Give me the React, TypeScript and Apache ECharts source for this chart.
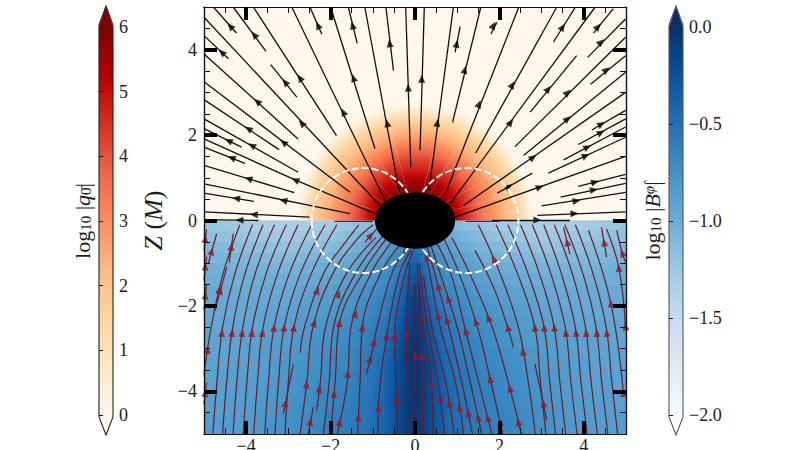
import React, { useEffect, useRef } from "react";
import * as echarts from "echarts";

const serif = '"Liberation Serif", serif';
const ink = "#1c1c1c";
const majorTicks = [-4, -2, 0, 2, 4];

// colormaps (value fraction evenly spaced)
const orRd = ["#fff7ec", "#fee8c8", "#fdd49e", "#fdbb84", "#fc8d59", "#ef6548", "#d7301f", "#b30000", "#7f0000"];
const blues = ["#f7fbff", "#deebf7", "#c6dbef", "#9ecae1", "#6baed6", "#4292c6", "#2171b5", "#08519c", "#08306b"];
const qRange = [0, 6];
const bRange = [-2, 0];

// log10|q| above the equator: one row per 15 degree wedge from the equator to the pole, one column per radius
const qRadii = [0.6, 0.7, 0.8, 0.9, 1.0, 1.1, 1.2, 1.3, 1.4, 1.5, 1.6, 1.7, 1.8, 1.9, 2.0, 2.1, 2.2, 2.3, 2.4, 2.5, 2.6, 2.7, 2.8];
const qWedges = [
  [5.8, 5.8, 5.7, 5.5, 5.3, 5.0, 4.6, 4.3, 4.0, 3.7, 3.4, 3.2, 3.0, 2.8, 2.6, 2.35, 2.1, 1.9, 1.65, 1.3, 0.9, 0.4, 0],
  [5.8, 5.8, 5.7, 5.5, 5.3, 5.0, 4.65, 4.35, 4.05, 3.75, 3.45, 3.2, 3.0, 2.8, 2.55, 2.3, 2.1, 1.85, 1.6, 1.25, 0.85, 0.4, 0],
  [5.8, 5.8, 5.7, 5.5, 5.3, 5.0, 4.7, 4.4, 4.1, 3.8, 3.5, 3.25, 3.0, 2.75, 2.5, 2.3, 2.05, 1.8, 1.5, 1.2, 0.8, 0.35, 0],
  [5.8, 5.8, 5.7, 5.5, 5.25, 5.0, 4.7, 4.45, 4.2, 3.9, 3.6, 3.3, 3.0, 2.75, 2.5, 2.3, 2.0, 1.75, 1.45, 1.1, 0.7, 0.3, 0],
  [5.8, 5.8, 5.7, 5.5, 5.2, 5.0, 4.7, 4.5, 4.25, 4.0, 3.7, 3.4, 3.1, 2.8, 2.55, 2.3, 2.05, 1.75, 1.4, 1.05, 0.65, 0.25, 0],
  [5.8, 5.8, 5.7, 5.5, 5.2, 5.0, 4.7, 4.5, 4.3, 4.1, 3.8, 3.5, 3.2, 2.9, 2.6, 2.4, 2.1, 1.8, 1.4, 1.0, 0.6, 0.2, 0],
];

// log10|B| below the equator: one row per 0.25 M of Z, one column per |X| edge
const bColumns = [0, 0.15, 0.3, 0.5, 0.75, 1, 1.5, 2, 3, 4, 5];
const bRows = [
  [-0.75, -0.8, -0.85, -0.95, -1.05, -1.12, -1.2, -1.28, -1.33, -1.28, -1.2],
  [-0.6, -0.65, -0.75, -0.85, -0.95, -1.02, -1.12, -1.2, -1.27, -1.22, -1.15],
  [-0.5, -0.55, -0.68, -0.78, -0.88, -0.95, -1.05, -1.12, -1.2, -1.15, -1.1],
  [-0.42, -0.48, -0.62, -0.72, -0.82, -0.87, -0.98, -1.05, -1.12, -1.1, -1.06],
  [-0.33, -0.4, -0.55, -0.68, -0.76, -0.82, -0.92, -0.99, -1.05, -1.05, -1.02],
  [-0.25, -0.33, -0.48, -0.63, -0.72, -0.78, -0.87, -0.93, -1.0, -1.02, -1.0],
  [-0.18, -0.27, -0.43, -0.58, -0.68, -0.73, -0.83, -0.88, -0.96, -0.99, -0.98],
  [-0.13, -0.2, -0.38, -0.53, -0.64, -0.69, -0.79, -0.84, -0.93, -0.97, -0.97],
  [-0.08, -0.15, -0.32, -0.48, -0.6, -0.66, -0.76, -0.81, -0.9, -0.95, -0.96],
  [-0.06, -0.12, -0.27, -0.44, -0.56, -0.63, -0.73, -0.78, -0.88, -0.93, -0.95],
  [-0.05, -0.09, -0.23, -0.4, -0.53, -0.6, -0.7, -0.76, -0.86, -0.92, -0.94],
  [-0.04, -0.08, -0.2, -0.36, -0.5, -0.58, -0.68, -0.74, -0.84, -0.91, -0.93],
  [-0.03, -0.07, -0.17, -0.32, -0.47, -0.56, -0.66, -0.72, -0.82, -0.9, -0.92],
  [-0.03, -0.07, -0.16, -0.3, -0.45, -0.54, -0.65, -0.7, -0.81, -0.89, -0.91],
  [-0.03, -0.07, -0.15, -0.28, -0.43, -0.52, -0.63, -0.68, -0.8, -0.88, -0.9],
  [-0.03, -0.07, -0.15, -0.27, -0.42, -0.51, -0.62, -0.67, -0.79, -0.87, -0.9],
  [-0.04, -0.08, -0.15, -0.27, -0.41, -0.5, -0.61, -0.66, -0.78, -0.86, -0.89],
  [-0.04, -0.08, -0.15, -0.27, -0.41, -0.49, -0.6, -0.65, -0.77, -0.85, -0.88],
  [-0.05, -0.09, -0.16, -0.28, -0.41, -0.49, -0.59, -0.64, -0.76, -0.84, -0.87],
  [-0.05, -0.09, -0.16, -0.28, -0.41, -0.48, -0.58, -0.63, -0.75, -0.84, -0.87],
];

const horizonAxes = [0.95, 0.66]; // semi-axes in M
const ergoCircles = [[-1.22, 0, 1.23], [1.22, 0, 1.23]]; // centre X, centre Z, radius

type Stream = [number[][], number[][]];
type LowStream = [number[][], number[]];

// each stream: points along the flow, then its arrow positions (X, Z in M)
const upperLeft: Stream[] = [
  [[[-0.1, 1.25], [-0.22, 5]], [[-0.16, 3.11]]],
  [[[-0.37, 0.66], [-1.19, 5]], [[-0.66, 2.28]]],
  [[[-0.71, 0.47], [-2.92, 5]], [[-1.7, 2.54]]],
  [[[-0.95, 1.68], [-2.0, 5]], [[-1.46, 3.34]]],
  [[[-1.86, 1.99], [-3.83, 5]], [[-2.73, 3.34]]],
  [[[-0.83, 0.35], [-5, 4.76]], [[-2.69, 2.28]]],
  [[[-2.77, 1.91], [-5, 3.9]], [[-3.74, 2.79]]],
  [[[-1.54, 0.66], [-5, 3.25]], [[-3.12, 1.83]]],
  [[[-3.22, 1.66], [-5, 2.83]], [[-3.95, 2.15]]],
  [[[-2.77, 1.13], [-5, 2.38]], [[-3.87, 1.76]]],
  [[[-4.11, 1.72], [-5, 2.15]], [[-4.42, 1.87]]],
  [[[-0.95, 0.16], [-2.84, 0.95], [-5, 1.91]], [[-2.84, 0.95]]],
  [[[-4.03, 1.34], [-5, 1.72]], [[-4.35, 1.47]]],
  [[[-2.86, 0.65], [-5, 1.29]], [[-3.95, 0.98]]],
  [[[-1.54, 0.16], [-5, 0.86]], [[-3.12, 0.47]]],
  [[[-3.82, 0.45], [-5, 0.64]], [[-4.24, 0.52]]],
  [[[-2.5, 0.08], [-5, 0.2]], [[-3.82, 0.14]]],
  [[[-3.71, 0.0], [-5, 0.02]], [[-4.16, 0.01]]],
  [[[-3.53, 3.96], [-4.31, 5]], [[-3.81, 4.35]]],
  [[[-4.23, 4.39], [-4.78, 5]], [[-4.38, 4.55]]],
  [[[-4.42, 3.79], [-5, 4.33]], [[-4.58, 3.94]]],
  [[[-2.8, 2.89], [-3.42, 3.65]], [[-3.08, 3.24]]],
  [[[-2.21, 4.37], [-2.49, 5]], [[-2.3, 4.57]]],
  [[[-1.37, 4.15], [-1.58, 5]], [[-1.48, 4.57]]],
  [[[-0.51, 3.51], [-0.69, 5]], [[-0.6, 4.15]]],
];

const upperRight: Stream[] = [
  [[[0.12, 1.64], [0.22, 5]], [[0.16, 3.32]]],
  [[[0.33, 0.7], [0.91, 5]], [[0.53, 2.29]]],
  [[[0.89, 2.3], [1.56, 5]], [[1.18, 3.53]]],
  [[[0.95, 3.94], [1.07, 4.54]], [[0.99, 4.14]]],
  [[[1.8, 4.37], [1.94, 4.64]], [[1.86, 4.57]]],
  [[[0.75, 0.7], [2.46, 5]], [[1.52, 2.73]]],
  [[[1.44, 1.58], [3.36, 5]], [[2.31, 3.18]]],
  [[[0.83, 0.39], [4.27, 5]], [[2.27, 2.3]]],
  [[[2.73, 2.54], [3.83, 3.86]], [[3.16, 3.08]]],
  [[[2.37, 1.73], [4.99, 4.29]], [[3.62, 3.0]]],
  [[[2.57, 1.52], [4.99, 3.47]], [[3.62, 2.38]]],
  [[[1.15, 0.35], [4.99, 3.0]], [[2.8, 1.48]]],
  [[[4.19, 2.12], [4.99, 2.58]], [[4.42, 2.26]]],
  [[[3.87, 1.78], [4.99, 2.38]], [[4.41, 2.06]]],
  [[[3.52, 1.42], [4.99, 2.19]], [[4.09, 1.72]]],
  [[[3.16, 1.11], [4.99, 1.95]], [[4.05, 1.52]]],
  [[[1.95, 0.64], [2.78, 1.11]], [[2.23, 0.8]]],
  [[[0.95, 0.08], [4.99, 1.5]], [[2.96, 0.78]]],
  [[[3.87, 0.8], [4.99, 1.08]], [[4.27, 0.9]]],
  [[[3.45, 0.55], [4.99, 0.87]], [[4.24, 0.72]]],
  [[[3.0, 0.34], [4.99, 0.66]], [[3.83, 0.46]]],
  [[[2.9, 0.12], [4.99, 0.2]], [[3.78, 0.16]]],
  [[[1.82, 0.0], [3.67, 0.0]], [[2.9, 0.01]]],
  [[[3.28, 4.18], [3.79, 4.98]], [[3.5, 4.53]]],
  [[[4.23, 4.39], [4.7, 4.96]], [[4.34, 4.54]]],
  [[[4.09, 3.82], [4.99, 4.72]], [[4.41, 4.18]]],
  [[[4.16, 3.19], [4.99, 3.86]], [[4.54, 3.53]]],
];

// below the equator: points along the flow, then the Z of each arrow on that stream
const lowerLeft: LowStream[] = [
  [[[-5, -3.6], [-4.83, -2.5], [-4.55, -1.25], [-4.15, -0.1]], [-3.03, -1.62]],
  [[[-4.79, -5], [-4.69, -3.75], [-4.56, -2.5], [-4.27, -1.25], [-3.85, -0.1]], [-2.63]],
  [[[-4.56, -5], [-4.46, -3.75], [-4.32, -2.5], [-4.03, -1.25], [-3.6, -0.1]], [-2.63]],
  [[[-4.31, -5], [-4.22, -3.75], [-4.08, -2.5], [-3.79, -1.25], [-3.33, -0.1]], [-2.63]],
  [[[-4.07, -5], [-3.98, -3.75], [-3.85, -2.5], [-3.53, -1.25], [-3.05, -0.1]], [-2.63]],
  [[[-3.82, -5], [-3.73, -3.75], [-3.6, -2.5], [-3.26, -1.25], [-2.77, -0.1]], [-2.63]],
  [[[-3.56, -5], [-3.47, -3.75], [-3.34, -2.5], [-2.98, -1.25], [-2.45, -0.1]], [-2.51]],
  [[[-3.32, -5], [-3.23, -3.75], [-3.1, -2.5], [-2.72, -1.25], [-2.13, -0.1]], [-2.51]],
  [[[-3.08, -5], [-3.0, -3.75], [-2.87, -2.5], [-2.46, -1.25], [-1.85, -0.1]], [-2.51]],
  [[[-2.72, -3.1], [-2.62, -2.5], [-2.17, -1.25], [-1.72, -0.6], [-1.33, -0.1]], [-1.64]],
  [[[-2.72, -5], [-2.56, -3.75], [-2.42, -2.5], [-1.95, -1.25], [-1.38, -0.45], [-0.99, -0.1]], [-3.84, -2.4]],
  [[[-2.33, -4.45], [-2.24, -3.75], [-2.12, -2.5], [-1.63, -1.25], [-0.93, -0.4]], [-3.94, -1.72]],
  [[[-2.17, -5], [-2.03, -3.75], [-1.93, -2.5], [-1.42, -1.25], [-0.75, -0.35]], []],
  [[[-2.0, -5], [-1.89, -3.75], [-1.79, -2.4], [-1.25, -1.25], [-0.62, -0.35]], [-4.06, -2.4]],
  [[[-1.84, -5], [-1.6, -3.75], [-1.52, -2.5], [-1.05, -1.25], [-0.47, -0.4]], [-4.72, -3.59, -2.19]],
  [[[-1.36, -5], [-1.3, -3.75], [-1.25, -2.5], [-0.82, -1.25], [-0.3, -0.5]], [-4.61, -2.51]],
  [[[-1.15, -3.6], [-1.0, -3.0], [-0.9, -2.5], [-0.55, -1.25], [-0.18, -0.6]], [-3.24, -2.85]],
  [[[-0.88, -5], [-0.86, -4.2], [-0.67, -2.71], [-0.37, -1.25], [-0.1, -0.7]], [-4.39, -2.71]],
  [[[-0.42, -5], [-0.44, -4.18], [-0.48, -2.71], [-0.3, -1.5], [-0.05, -0.7]], [-4.18, -2.71]],
  [[[-0.16, -5], [-0.2, -2.65], [-0.12, -1.0]], [-2.65]],
  [[[-2.53, -5], [-2.41, -4.37]], [-4.72]],
  [[[-3.12, -4.53], [-2.88, -3.36]], [-4.28]],
  [[[-4.4, -0.98], [-4.31, -0.31]], [-0.61]],
  [[[-4.9, -1.01], [-4.7, -0.31]], [-0.72]],
  [[[-4.74, -2.11], [-4.46, -1.09]], [-1.64]],
  [[[-5, -0.7], [-4.94, -0.2]], [-0.43]],
  [[[-5, -1.4], [-4.94, -0.85]], [-1.08]],
  [[[-5, -2.1], [-4.94, -1.5]], [-1.76]],
  [[[-5, -4.3], [-4.94, -3.8]], [-4.04]],
  [[[-1.19, -0.51], [-0.91, -0.2]], [-0.35]],
  [[[-1.0, -0.02], [-1.9, -0.02]], []],
];

const lowerRight: LowStream[] = [
  [[[4.8, -5], [4.66, -3.75], [4.53, -2.5], [4.22, -1.25], [3.8, -0.1]], [-2.63]],
  [[[4.57, -5], [4.42, -3.75], [4.29, -2.5], [3.98, -1.25], [3.55, -0.1]], [-2.63]],
  [[[4.32, -5], [4.17, -3.75], [4.04, -2.5], [3.73, -1.25], [3.3, -0.1]], [-2.63]],
  [[[4.08, -5], [3.93, -3.75], [3.8, -2.5], [3.47, -1.25], [3.05, -0.1]], [-2.63]],
  [[[3.84, -5], [3.69, -3.75], [3.56, -2.5], [3.22, -1.25], [2.78, -0.1]], [-2.63]],
  [[[3.57, -5], [3.43, -3.75], [3.3, -2.5], [2.95, -1.25], [2.5, -0.1]], [-2.51]],
  [[[3.33, -5], [3.19, -3.75], [3.06, -2.5], [2.68, -1.25], [2.2, -0.1]], [-2.51]],
  [[[3.1, -5], [2.97, -3.75], [2.84, -2.5], [2.43, -1.25], [1.92, -0.1]], [-2.51]],
  [[[2.85, -5], [2.68, -3.75], [2.45, -2.5], [2.02, -1.25], [1.5, -0.1]], [-3.07, -0.9]],
  [[[2.52, -5], [2.2, -3.75], [1.83, -2.5], [1.3, -1.25], [0.87, -0.4]], [-4.72, -3.93, -2.28]],
  [[[2.33, -2.97], [2.2, -2.51], [1.86, -1.56], [1.42, -0.7]], [-2.51]],
  [[[2.08, -5], [1.79, -3.75], [1.48, -2.5], [1.05, -1.25], [0.7, -0.45]], [-4.72, -3.71, -2.37]],
  [[[1.82, -5], [1.5, -3.75], [1.18, -2.5], [0.85, -1.25], [0.5, -0.5]], [-4.62, -2.59]],
  [[[1.58, -5], [1.3, -3.75], [1.0, -2.5], [0.6, -1.25], [0.35, -0.5]], [-4.62, -1.83]],
  [[[1.36, -5], [1.1, -3.75], [0.8, -2.5], [0.47, -1.25], [0.28, -0.6]], [-4.51, -2.33, -1.54]],
  [[[1.15, -5], [0.95, -3.75], [0.6, -2.5], [0.3, -1.0], [0.2, -0.6]], [-4.39, -2.22, -0.87]],
  [[[0.93, -5], [0.72, -3.75], [0.42, -2.6], [0.2, -1.3]], [-4.28]],
  [[[0.7, -5], [0.54, -3.75], [0.3, -2.5], [0.1, -1.0]], [-4.16]],
  [[[0.43, -5], [0.39, -3.83], [0.2, -2.5], [0.05, -1.0]], [-3.83]],
  [[[0.18, -5], [0.16, -3.16], [0.08, -1.5]], [-3.16]],
  [[[0, -5], [0, -3.16], [0, -1.5]], [-3.16]],
  [[[4.54, -0.86], [4.42, -0.16]], [-0.51]],
  [[[3.67, -0.78], [3.52, -0.16]], [-0.51]],
  [[[4.94, -4.06], [4.64, -1.94], [4.11, -0.23]], [-4.04, -1.94]],
  [[[4.99, -2.5], [4.83, -1.11], [4.54, -0.2]], [-2.48, -1.11]],
  [[[4.99, -0.98], [4.91, -0.76], [4.78, -0.23]], [-0.76]],
  [[[3.12, -4.68], [3.04, -4.28], [2.84, -3.36]], [-4.28]],
  [[[1.2, -0.02], [2.0, -0.02]], []],
];

const hex = (s: string) => [1, 3, 5].map((i) => parseInt(s.slice(i, i + 2), 16));

function colorOf(map: string[], range: number[], v: number) {
  const t = Math.min(1, Math.max(0, (v - range[0]) / (range[1] - range[0]))) * (map.length - 1);
  const i = Math.min(map.length - 2, Math.floor(t));
  const a = hex(map[i]);
  const b = hex(map[i + 1]);
  const f = t - i;
  return `rgb(${a.map((c, k) => Math.round(c + (b[k] - c) * f)).join(",")})`;
}

function placeArrows([line, zs]: LowStream): Stream {
  return [
    line,
    zs.map((z) => {
      for (let i = 0; i < line.length - 1; i++) {
        const [x0, z0] = line[i];
        const [x1, z1] = line[i + 1];
        if (z >= Math.min(z0, z1) && z <= Math.max(z0, z1) && z0 !== z1) {
          return [x0 + ((z - z0) / (z1 - z0)) * (x1 - x0), z];
        }
      }
      return [line[0][0], z];
    }),
  ];
}

function arrowAngle(line: number[][], p: number[]) {
  let best = 0;
  let bestD = Infinity;
  for (let i = 0; i < line.length - 1; i++) {
    const [ax, ay] = line[i];
    const dx = line[i + 1][0] - ax;
    const dy = line[i + 1][1] - ay;
    const t = Math.max(0, Math.min(1, ((p[0] - ax) * dx + (p[1] - ay) * dy) / (dx * dx + dy * dy)));
    const d = Math.hypot(ax + t * dx - p[0], ay + t * dy - p[1]);
    if (d < bestD) {
      bestD = d;
      best = i;
    }
  }
  const d = [line[best + 1][0] - line[best][0], line[best + 1][1] - line[best][1]];
  return (Math.atan2(d[1], d[0]) * 180) / Math.PI - 90;
}

function streamSeries(streams: Stream[], color: string, smooth: number, width: number) {
  return streams.map(([line]) => ({
    type: "line",
    xAxisIndex: 0,
    yAxisIndex: 0,
    data: line,
    symbol: "none",
    smooth,
    silent: true,
    z: 4,
    lineStyle: { color, width },
  }));
}

function arrowSeries(streams: Stream[], color: string) {
  const data: any[] = [];
  streams.forEach(([line, arrows]) =>
    arrows.forEach((p) => data.push({ value: p, symbolRotate: arrowAngle(line, p) }))
  );
  return {
    type: "scatter",
    xAxisIndex: 0,
    yAxisIndex: 0,
    data,
    symbol: "triangle",
    symbolSize: [7, 8],
    silent: true,
    clip: true,
    z: 5,
    itemStyle: { color },
  };
}

function rectSeries(data: number[][]) {
  return {
    type: "custom",
    xAxisIndex: 0,
    yAxisIndex: 0,
    silent: true,
    clip: true,
    z: 1,
    data,
    renderItem: (_: any, api: any) => {
      const a = api.coord([api.value(0), api.value(3)]);
      const b = api.coord([api.value(1), api.value(2)]);
      const left = a[0] < b[0];
      const c0 = colorOf(blues, bRange, api.value(4));
      const c1 = colorOf(blues, bRange, api.value(5));
      return {
        type: "rect",
        shape: { x: Math.min(a[0], b[0]) - 0.3, y: a[1] - 0.3, width: Math.abs(b[0] - a[0]) + 0.6, height: b[1] - a[1] + 0.6 },
        style: {
          fill: new echarts.graphic.LinearGradient(0, 0, 1, 0, [
            { offset: 0, color: left ? c0 : c1 },
            { offset: 1, color: left ? c1 : c0 },
          ]),
        },
      };
    },
  };
}

function buildOption() {
  const bCells: number[][] = [];
  bRows.forEach((row, r) => {
    const zTop = -0.25 * r;
    const zBottom = -0.25 * (r + 1);
    for (let c = 0; c < bColumns.length - 1; c++) {
      bCells.push([bColumns[c], bColumns[c + 1], zBottom, zTop, row[c], row[c + 1]]);
      bCells.push([-bColumns[c], -bColumns[c + 1], zBottom, zTop, row[c], row[c + 1]]);
    }
  });

  const qCells: number[][] = [];
  qWedges.forEach((_, w) => {
    qCells.push([15 * w, 15 * (w + 1), w]);
    qCells.push([180 - 15 * (w + 1), 180 - 15 * w, w]);
  });
  const qOuter = qRadii[qRadii.length - 1];

  const baseAxis = { min: -5, max: 5, gridIndex: 0, z: 9 };
  const line = { show: true, onZero: false, lineStyle: { color: "#111", width: 1.2 } };
  const thin = {
    ...baseAxis,
    type: "value",
    interval: 0.5,
    axisLine: line,
    axisTick: { show: true, inside: true, length: 6, lineStyle: { color: "#111", width: 1 } },
    axisLabel: { show: false },
    splitLine: { show: false },
  };
  const thick = {
    ...baseAxis,
    type: "value",
    axisLine: line,
    axisTick: { show: true, inside: true, length: 13, customValues: majorTicks, lineStyle: { color: "#000", width: 4 } },
    splitLine: { show: false },
  };
  const tickLabel = {
    show: true,
    customValues: majorTicks,
    color: ink,
    fontFamily: serif,
    fontSize: 18,
    margin: 7,
    formatter: (v: number) => String(v).replace("-", "\u2212"),
  };

  const cbGradient = (map: string[]) =>
    new echarts.graphic.LinearGradient(
      0, 1, 0, 0,
      map.map((color, i) => ({ offset: i / (map.length - 1), color }))
    );
  const colorbar = (x: number, map: string[], edge: string) => [
    { type: "rect", z: 20, shape: { x, y: 27, width: 14, height: 388 }, style: { fill: cbGradient(map) } },
    { type: "polygon", z: 20, shape: { points: [[x, 27], [x + 7, 6], [x + 14, 27]] }, style: { fill: map[map.length - 1] } },
    { type: "polygon", z: 20, shape: { points: [[x, 415], [x + 7, 435], [x + 14, 415]] }, style: { fill: map[0] } },
    {
      type: "polygon",
      z: 21,
      shape: { points: [[x, 25], [x + 7, 6], [x + 14, 25], [x + 14, 417], [x + 7, 435], [x, 417]] },
      style: { fill: "none", stroke: edge, lineWidth: 1.1 },
    },
  ];
  const titleRich = {
    a: { fontFamily: serif, fontSize: 22, color: ink, verticalAlign: "bottom" },
    i: { fontFamily: serif, fontSize: 22, fontStyle: "italic", color: ink, verticalAlign: "bottom" },
    s: { fontFamily: serif, fontSize: 15, color: ink, verticalAlign: "bottom" },
    u: { fontFamily: serif, fontSize: 15, fontStyle: "italic", color: ink, verticalAlign: "top" },
  };

  return {
    animation: false,
    backgroundColor: "#fff",
    textStyle: { fontFamily: serif },
    grid: [
      { left: 204, right: 174, top: 7, bottom: 16, outerBoundsMode: "none" },
      { left: 99, width: 14, top: 27, height: 388, outerBoundsMode: "none" },
      { left: 669, width: 14, top: 27, height: 388, outerBoundsMode: "none" },
    ],
    xAxis: [
      { ...thin, position: "bottom" },
      { ...thick, position: "bottom", axisLabel: { ...tickLabel, margin: 3 } },
      { ...thin, position: "top" },
      { ...thick, position: "top", axisLabel: { show: false } },
      { gridIndex: 1, show: false, type: "value" },
      { gridIndex: 2, show: false, type: "value" },
    ],
    yAxis: [
      { ...thin, position: "left" },
      {
        ...thick,
        position: "left",
        axisLabel: tickLabel,
        name: "{i|Z} ({i|M})",
        nameLocation: "middle",
        nameGap: 37,
        nameRotate: 90,
        nameTextStyle: {
          fontFamily: serif,
          fontSize: 26,
          color: ink,
          rich: { i: { fontFamily: serif, fontSize: 26, fontStyle: "italic", color: ink } },
        },
      },
      { ...thin, position: "right" },
      { ...thick, position: "right", axisLabel: { show: false } },
      {
        gridIndex: 1,
        type: "value",
        position: "right",
        min: qRange[0],
        max: qRange[1],
        interval: 1,
        z: 30,
        axisLine: { show: false },
        axisTick: { show: true, length: 4, lineStyle: { color: ink, width: 1 } },
        axisLabel: { color: ink, fontFamily: serif, fontSize: 18, margin: 6 },
        splitLine: { show: false },
      },
      {
        gridIndex: 2,
        type: "value",
        position: "right",
        min: bRange[0],
        max: bRange[1],
        interval: 0.5,
        z: 30,
        axisLine: { show: false },
        axisTick: { show: true, length: 4, lineStyle: { color: ink, width: 1 } },
        axisLabel: {
          color: ink,
          fontFamily: serif,
          fontSize: 18,
          margin: 6,
          formatter: (v: number) => v.toFixed(1).replace("-", "\u2212"),
        },
        splitLine: { show: false },
      },
    ],
    graphic: [
      ...colorbar(99, orRd, "#222"),
      ...colorbar(669, blues, "#555"),
      {
        type: "text",
        z: 22,
        x: 82,
        y: 221,
        rotation: Math.PI / 2,
        style: {
          text: "{a|log}{s|10}{a| |}{i|q}{s|0\u0302}{a||}",
          rich: titleRich,
          align: "center",
          verticalAlign: "middle",
          fontFamily: serif,
          fontSize: 22,
          fill: ink,
        },
      },
      {
        type: "text",
        z: 22,
        x: 652,
        y: 221,
        rotation: Math.PI / 2,
        style: {
          text: "{a|log}{s|10}{a| |}{i|B}{u|\u03c6\u0302}{a||}",
          rich: titleRich,
          align: "center",
          verticalAlign: "middle",
          fontFamily: serif,
          fontSize: 22,
          fill: ink,
        },
      },
    ],
    series: [
      {
        type: "custom",
        xAxisIndex: 0,
        yAxisIndex: 0,
        silent: true,
        clip: true,
        z: 1,
        data: [[-5, 5, 0, 5, qRange[0]]],
        renderItem: (_: any, api: any) => {
          const a = api.coord([api.value(0), api.value(3)]);
          const b = api.coord([api.value(1), api.value(2)]);
          return {
            type: "rect",
            shape: { x: a[0], y: a[1], width: b[0] - a[0], height: b[1] - a[1] },
            style: { fill: colorOf(orRd, qRange, api.value(4)) },
          };
        },
      },
      rectSeries(bCells),
      {
        type: "custom",
        xAxisIndex: 0,
        yAxisIndex: 0,
        silent: true,
        clip: true,
        z: 2,
        data: qCells,
        renderItem: (_: any, api: any) => {
          const c = api.coord([0, 0]);
          const unit = api.size([1, 1])[0];
          const row = qWedges[api.value(2)];
          const stops = row.map((v, k) => ({ offset: qRadii[k] / qOuter, color: colorOf(orRd, qRange, v) }));
          const fill = new echarts.graphic.RadialGradient(c[0], c[1], qOuter * unit, stops, true);
          return {
            type: "sector",
            shape: {
              cx: c[0],
              cy: c[1],
              r0: qRadii[0] * unit,
              r: qOuter * unit,
              startAngle: (-api.value(1) * Math.PI) / 180,
              endAngle: (-api.value(0) * Math.PI) / 180,
              clockwise: true,
            },
            style: { fill },
          };
        },
      },
      ...streamSeries(upperLeft, "#111", 0, 1.3),
      ...streamSeries(upperRight, "#111", 0, 1.3),
      ...streamSeries(lowerLeft.map(placeArrows), "#6b1a2c", 0.4, 1.2),
      ...streamSeries(lowerRight.map(placeArrows), "#6b1a2c", 0.4, 1.2),
      arrowSeries([...upperLeft, ...upperRight], "#000"),
      arrowSeries([...lowerLeft, ...lowerRight].map(placeArrows), "#96182a"),
      {
        type: "custom",
        xAxisIndex: 0,
        yAxisIndex: 0,
        silent: true,
        clip: true,
        z: 6,
        data: ergoCircles,
        renderItem: (_: any, api: any) => {
          const c = api.coord([api.value(0), api.value(1)]);
          const s = api.size([api.value(2), api.value(2)]);
          return {
            type: "ellipse",
            shape: { cx: c[0], cy: c[1], rx: s[0], ry: s[1] },
            style: { fill: "none", stroke: "#fff", lineWidth: 2, lineDash: [7, 3] },
          };
        },
      },
      {
        type: "custom",
        xAxisIndex: 0,
        yAxisIndex: 0,
        silent: true,
        clip: true,
        z: 7,
        data: [[0, 0, horizonAxes[0], horizonAxes[1]]],
        renderItem: (_: any, api: any) => {
          const c = api.coord([api.value(0), api.value(1)]);
          const s = api.size([api.value(2), api.value(3)]);
          return {
            type: "ellipse",
            shape: { cx: c[0], cy: c[1], rx: s[0], ry: s[1] },
            style: { fill: "#000" },
          };
        },
      },
    ],
  };
}

export default function App() {
  const ref = useRef<HTMLDivElement>(null);
  useEffect(() => {
    document.body.style.margin = "0";
    const chart = echarts.init(ref.current!, null, { renderer: "svg" });
    chart.setOption(buildOption() as any);
    return () => chart.dispose();
  }, []);
  return <div ref={ref} style={{ width: 800, height: 450 }} />;
}
